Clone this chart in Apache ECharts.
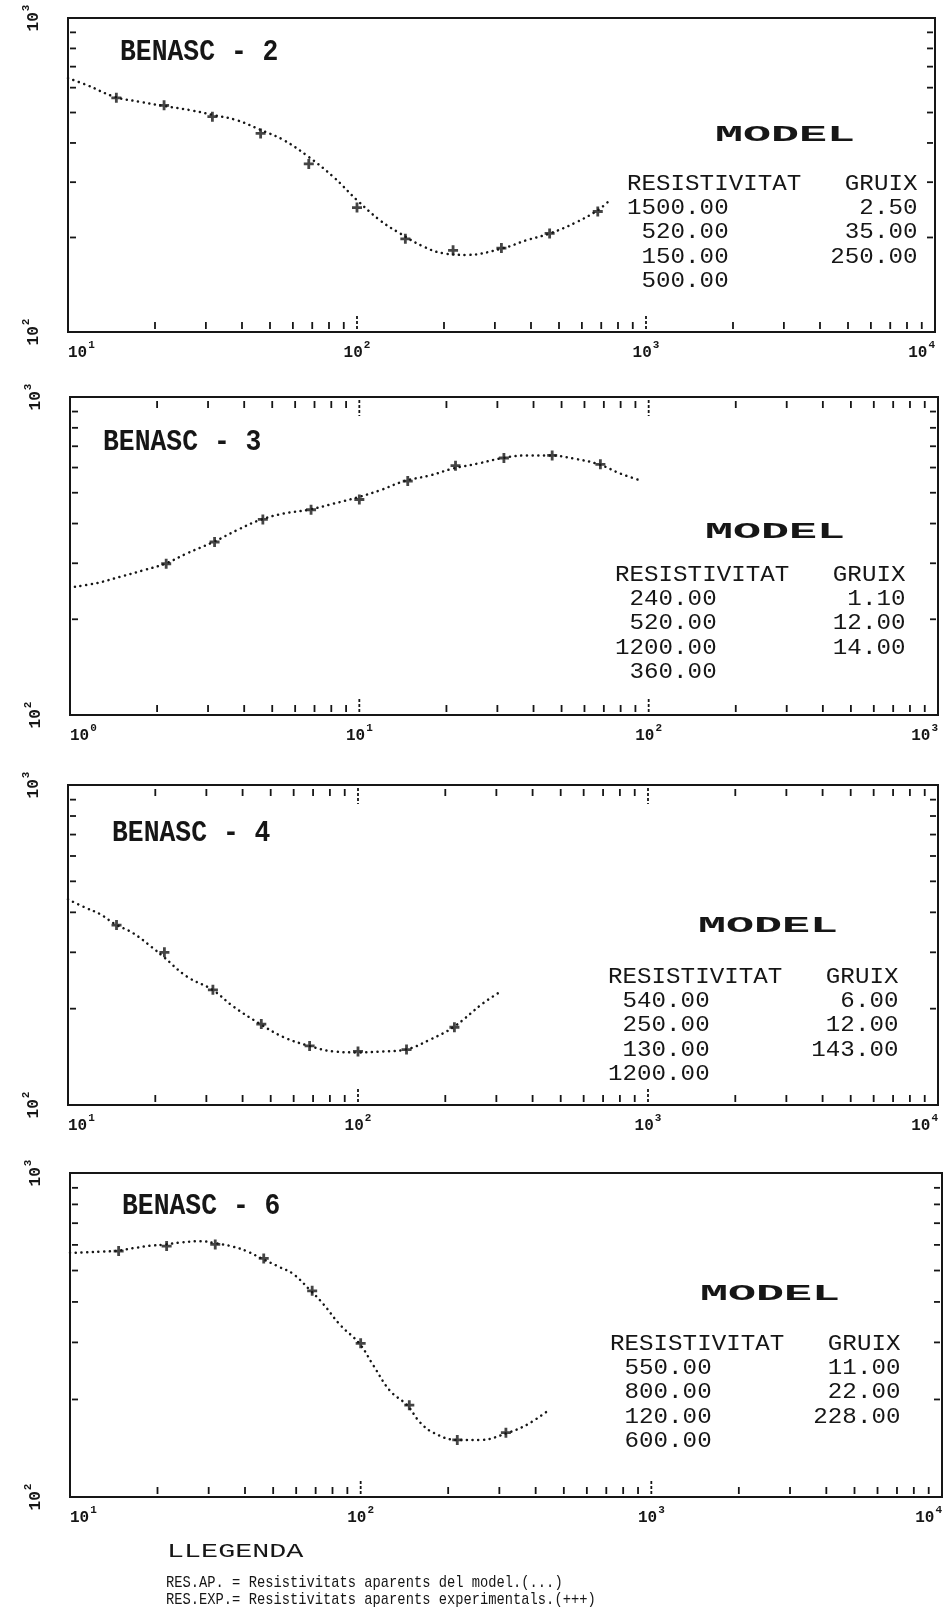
<!DOCTYPE html>
<html>
<head>
<meta charset="utf-8">
<script src="https://cdn.jsdelivr.net/npm/echarts@6/dist/echarts.min.js"></script>
<style>
  html, body { margin: 0; padding: 0; background: #fff; }
  #chart { width: 947px; height: 1622px; }
</style>
</head>
<body>
<div id="chart"></div>
<script>
// BENASC-2
const b2Titol = "BENASC - 2";
const b2ExpX = [14.7, 21.5, 31.6, 46.4, 68.1, 100, 147, 215, 316, 464, 681];
const b2ExpY = [557, 527, 485, 429, 343, 249, 198, 182, 185, 206, 242];
const b2ModX = [10, 11.6, 14.5, 17.7, 21.4, 26.4, 31.8, 38.3, 45.9, 55.6, 67.8, 82.8, 100, 120, 141, 170, 199, 240, 321, 386, 465, 576, 684, 750];
const b2ModY = [643, 612, 561, 541, 525, 509, 491, 473, 442, 409, 362, 312, 263, 227, 206, 187, 178, 176, 185, 196, 206, 224, 245, 263];
const b2Resist = [1500, 520, 150, 500];
const b2Gruix = [2.5, 35, 250];

// BENASC-3
const b3Titol = "BENASC - 3";
const b3ExpX = [2.15, 3.16, 4.64, 6.81, 10, 14.7, 21.5, 31.6, 46.4, 68.1];
const b3ExpY = [299, 350, 412, 442, 476, 544, 608, 643, 655, 614];
const b3ModX = [1.04, 1.24, 1.49, 1.79, 2.13, 2.53, 3.13, 3.77, 4.52, 5.47, 6.68, 8.15, 9.82, 11.8, 14.3, 17.6, 21.0, 26.2, 31.3, 38.0, 45.5, 55.2, 67.3, 80.0, 95.1];
const b3ModY = [253, 260, 272, 285, 299, 322, 350, 381, 410, 430, 442, 462, 483, 509, 544, 567, 595, 620, 643, 655, 655, 640, 614, 574, 544];
const b3Resist = [240, 520, 1200, 360];
const b3Gruix = [1.1, 12, 14];

// BENASC-4
const b4Titol = "BENASC - 4";
const b4ExpX = [14.7, 21.5, 31.6, 46.4, 68.1, 100, 147, 215];
const b4ExpY = [365, 300, 229, 179, 153, 147, 149, 175];
const b4ModX = [10, 11.6, 12.9, 14.5, 16.8, 19.4, 21.3, 25.7, 31.5, 37.2, 45.6, 55.3, 67.9, 82.2, 99.8, 122, 146, 177, 213, 270, 305];
const b4ModY = [439, 412, 395, 368, 344, 312, 291, 252, 229, 203, 180, 163, 153, 147, 146, 147, 149, 160, 175, 208, 224];
const b4Resist = [540, 250, 130, 1200];
const b4Gruix = [6, 12, 143];

// BENASC-6
const b6Titol = "BENASC - 6";
const b6ExpX = [14.7, 21.5, 31.6, 46.4, 68.1, 100, 147, 215, 316];
const b6ExpY = [574, 595, 602, 545, 433, 298, 192, 150, 158];
const b6ModX = [10, 11.4, 12.7, 14.5, 16.5, 18.8, 21.1, 23.9, 28.0, 31.5, 36.5, 40.5, 45.6, 52.7, 58.6, 67.3, 74.4, 84.9, 98.9, 110.5, 126, 144.5, 160, 177.7, 214, 257, 322, 377, 442];
const b6ModY = [567, 569, 572, 575, 586, 596, 601, 610, 616, 608, 592, 574, 545, 512, 488, 433, 394, 340, 298, 255, 213, 192, 170, 158, 150, 150, 158, 168, 185];
const b6Resist = [550, 800, 120, 600];
const b6Gruix = [11, 22, 228];

const minorK = [2, 3, 4, 5, 6, 7, 8, 9];
const yRange = [100, 1000];
const capcalera = "RESISTIVITAT   GRUIX";
const llegenda = [
  "RES.AP. = Resistivitats aparents del model.(...)",
  "RES.EXP.= Resistivitats aparents experimentals.(+++)"
];

const INK = "#161616";
const MONO = '"Liberation Mono", "DejaVu Sans Mono", monospace';

const panels = [
  { titol: b2Titol, expX: b2ExpX, expY: b2ExpY, modX: b2ModX, modY: b2ModY, resist: b2Resist, gruix: b2Gruix,
    xRange: [10, 10000], topTicks: false,
    grid: { left: 68, top: 18, width: 867, height: 314 },
    titolPos: [120, 52], modelPos: [715, 135], taulaPos: [627, 184] },
  { titol: b3Titol, expX: b3ExpX, expY: b3ExpY, modX: b3ModX, modY: b3ModY, resist: b3Resist, gruix: b3Gruix,
    xRange: [1, 1000], topTicks: true,
    grid: { left: 70, top: 397, width: 868, height: 318 },
    titolPos: [103, 442], modelPos: [705, 532], taulaPos: [615, 575] },
  { titol: b4Titol, expX: b4ExpX, expY: b4ExpY, modX: b4ModX, modY: b4ModY, resist: b4Resist, gruix: b4Gruix,
    xRange: [10, 10000], topTicks: true,
    grid: { left: 68, top: 785, width: 870, height: 320 },
    titolPos: [112, 833], modelPos: [698, 926], taulaPos: [608, 977] },
  { titol: b6Titol, expX: b6ExpX, expY: b6ExpY, modX: b6ModX, modY: b6ModY, resist: b6Resist, gruix: b6Gruix,
    xRange: [10, 10000], topTicks: false,
    grid: { left: 70, top: 1173, width: 872, height: 324 },
    titolPos: [122, 1206], modelPos: [700, 1294], taulaPos: [610, 1344] }
];

// etiquetes 10^n
const potRich = {
  b: { fontFamily: MONO, fontSize: 16, fontWeight: "bold", color: INK, verticalAlign: "bottom", lineHeight: 21 },
  s: { fontFamily: MONO, fontSize: 11, fontWeight: "bold", color: INK, verticalAlign: "top", lineHeight: 21, padding: [0, 0, 0, 1] }
};
function potencia(v) {
  return "{b|10}{s|" + Math.round(Math.log10(v)) + "}";
}

// marques d'eix: 0 baix menor, 1 baix major, 2 dalt menor, 3 dalt major, 4 esquerra, 5 dreta
function tickData(p) {
  const out = [];
  for (let dec = p.xRange[0]; dec < p.xRange[1]; dec *= 10) {
    if (dec > p.xRange[0]) {
      out.push([dec, yRange[0], 1]);
      if (p.topTicks) out.push([dec, yRange[1], 3]);
    }
    minorK.forEach((k) => {
      out.push([k * dec, yRange[0], 0]);
      if (p.topTicks) out.push([k * dec, yRange[1], 2]);
    });
  }
  minorK.forEach((k) => {
    out.push([p.xRange[0], k * 100, 4]);
    out.push([p.xRange[1], k * 100, 5]);
  });
  return out;
}

function drawTick(params, api) {
  const pt = api.coord([api.value(0), api.value(1)]);
  const kind = api.value(2);
  let x1 = pt[0], y1 = pt[1], x2 = pt[0], y2 = pt[1], dash = null;
  if (kind === 0) { y1 -= 3; y2 -= 10; }
  else if (kind === 1) { y1 -= 3; y2 -= 18; dash = [3, 2]; }
  else if (kind === 2) { y1 += 4; y2 += 11; }
  else if (kind === 3) { y1 += 3; y2 += 19; dash = [3, 2]; }
  else if (kind === 4) { x1 += 2; x2 += 8; }
  else { x1 -= 2; x2 -= 8; }
  return {
    type: "line",
    shape: { x1: x1, y1: y1, x2: x2, y2: y2 },
    style: { stroke: INK, lineWidth: 1.8, lineDash: dash }
  };
}

function textEl(txt, x, y, size, scaleX, weight) {
  return {
    type: "text", x: x, y: y, scaleX: scaleX, silent: true,
    style: { text: txt, fontFamily: MONO, fontSize: size, fontWeight: weight || "normal",
             fill: INK, align: "left", verticalAlign: "middle" }
  };
}

const option = {
  animation: false,
  backgroundColor: "#fff",
  grid: [], xAxis: [], yAxis: [], series: [], graphic: []
};

panels.forEach((p, i) => {
  option.grid.push(Object.assign({
    show: true, borderColor: INK, borderWidth: 2, backgroundColor: "transparent",
    outerBoundsMode: "none", containLabel: false
  }, p.grid));

  option.xAxis.push({
    type: "log", logBase: 10, gridIndex: i, min: p.xRange[0], max: p.xRange[1],
    axisLine: { show: false }, axisTick: { show: false }, splitLine: { show: false },
    axisLabel: {
      margin: 8, showMinLabel: true, showMaxLabel: true,
      alignMinLabel: "left", alignMaxLabel: "right",
      formatter: potencia, rich: potRich
    }
  });
  option.yAxis.push({
    type: "log", logBase: 10, gridIndex: i, min: yRange[0], max: yRange[1],
    axisLine: { show: false }, axisTick: { show: false }, splitLine: { show: false },
    axisLabel: { rotate: 90, margin: 26, showMinLabel: true, showMaxLabel: true, formatter: potencia, rich: potRich }
  });

  option.series.push({
    type: "custom", xAxisIndex: i, yAxisIndex: i, silent: true, clip: false,
    renderItem: drawTick, encode: { x: 0, y: 1 }, data: tickData(p)
  });
  option.series.push({
    name: "RES.AP.", type: "line", xAxisIndex: i, yAxisIndex: i, silent: true,
    showSymbol: false, smooth: 0.4,
    lineStyle: { color: INK, width: 2.5, type: [0.1, 5.6], cap: "round" },
    data: p.modX.map((x, j) => [x, p.modY[j]])
  });
  option.series.push({
    name: "RES.EXP.", type: "scatter", xAxisIndex: i, yAxisIndex: i, silent: true,
    symbol: "path://M3.6 0h2.8v3.6H10v2.8H6.4V10H3.6V6.4H0V3.6h3.6z", symbolSize: 10,
    itemStyle: { color: INK },
    data: p.expX.map((x, j) => [x, p.expY[j]])
  });

  // titol, MODEL i taula
  option.graphic.push(textEl(p.titol, p.titolPos[0], p.titolPos[1], 30, 0.88, "bold"));
  option.graphic.push(textEl("MODEL", p.modelPos[0], p.modelPos[1], 22, 2.12, "bold"));
  const linies = [capcalera];
  p.resist.forEach((r, j) => {
    let s = r.toFixed(2).padStart(7);
    if (j < p.gruix.length) s += p.gruix[j].toFixed(2).padStart(13);
    linies.push(s);
  });
  linies.forEach((l, j) => {
    option.graphic.push(textEl(l, p.taulaPos[0], p.taulaPos[1] + j * 24.3, 22, 1.1));
  });
});

option.graphic.push(textEl("LLEGENDA", 167, 1552, 20, 1.42));
llegenda.forEach((l, j) => {
  option.graphic.push(textEl(l, 166, 1582 + j * 17, 17, 0.81));
});

const chart = echarts.init(document.getElementById("chart"), null, { renderer: "canvas" });
chart.setOption(option);
</script>
</body>
</html>
